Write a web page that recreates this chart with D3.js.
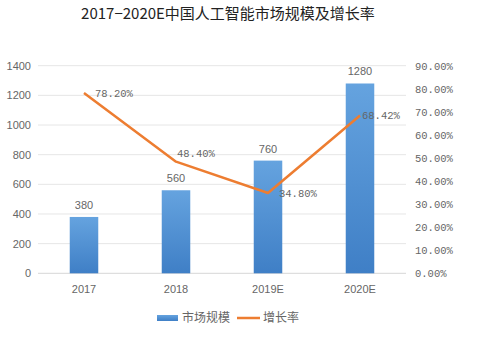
<!DOCTYPE html>
<html><head><meta charset="utf-8">
<script src="https://cdn.jsdelivr.net/npm/d3@7"></script>
<style>body{margin:0;background:#fff}svg{display:block}</style>
</head><body>
<svg id="c" width="478" height="343"></svg>
<script>
const categories = ["2017", "2018", "2019E", "2020E"];
const marketSize = [380, 560, 760, 1280];
const growthRate = [78.20, 48.40, 34.80, 68.42];
const leftTicks = [0, 200, 400, 600, 800, 1000, 1200, 1400];
const rightTicks = [0, 10, 20, 30, 40, 50, 60, 70, 80, 90];
const rateLabelOffsets = [[11, 0], [1, -8], [11, 0], [2, 0]];
const title = "2017\u22122020E中国人工智能市场规模及增长率";
const legendNames = ["市场规模", "增长率"];

(function () {
const svg = d3.select("#c");
const pL = 38, pR = 406, pT = 65.7, pB = 273.3;
const txt = "#666";
const x = d3.scaleBand().domain(categories).range([pL, pR]).paddingInner(0.69).paddingOuter(0.345);
const xc = d3.scaleBand().domain(categories).range([pL, pR]);
const yL = d3.scaleLinear().domain([0, 1400]).range([pB, pT]);
const yR = d3.scaleLinear().domain([0, 90]).range([pB, pT]);

const defs = svg.append("defs");
const g = defs.append("linearGradient").attr("id", "bg").attr("x1", 0).attr("y1", 0).attr("x2", 0).attr("y2", 1);
g.append("stop").attr("offset", "0%").attr("stop-color", "#65a3df");
g.append("stop").attr("offset", "100%").attr("stop-color", "#3f7fc6");

svg.append("text").attr("x", 228).attr("y", 19).attr("text-anchor", "middle")
  .attr("font-family", "'Noto Sans CJK SC', sans-serif").attr("font-size", 15).attr("fill", "#222")
  .text(title);

svg.append("g").selectAll("line").data(leftTicks).join("line")
  .attr("x1", pL).attr("x2", pR).attr("y1", d => yL(d)).attr("y2", d => yL(d))
  .attr("stroke", d => d === 0 ? "#d6d6d6" : "#e6e6e6").attr("stroke-width", 1);

const axL = svg.append("g").attr("transform", `translate(${pL},0)`)
  .call(d3.axisLeft(yL).tickValues(leftTicks).tickSize(0).tickPadding(7).tickFormat(d3.format("d")));
axL.select(".domain").remove();
axL.selectAll("text").attr("font-family", "'Liberation Sans', Arial, sans-serif").attr("font-size", 11).attr("fill", txt);

const axR = svg.append("g").attr("transform", `translate(${pR},0)`)
  .call(d3.axisRight(yR).tickValues(rightTicks).tickSize(0).tickPadding(9).tickFormat(d => d.toFixed(2) + "%"));
axR.select(".domain").remove();
axR.selectAll("text").attr("font-family", "'Liberation Mono', monospace").attr("font-size", 10.5).attr("fill", txt);

const axX = svg.append("g").attr("transform", `translate(0,${pB})`)
  .call(d3.axisBottom(xc).tickSize(0).tickPadding(12));
axX.select(".domain").remove();
axX.selectAll("text").attr("font-family", "'Liberation Sans', Arial, sans-serif").attr("font-size", 11).attr("fill", txt);

svg.append("g").selectAll("rect").data(marketSize).join("rect")
  .attr("x", (d, i) => x(categories[i])).attr("width", x.bandwidth())
  .attr("y", d => yL(d)).attr("height", d => yL(0) - yL(d)).attr("fill", "url(#bg)");

svg.append("g").selectAll("text").data(marketSize).join("text")
  .attr("x", (d, i) => x(categories[i]) + x.bandwidth() / 2).attr("y", d => yL(d) - 8)
  .attr("text-anchor", "middle").attr("font-family", "'Liberation Sans', Arial, sans-serif")
  .attr("font-size", 11).attr("fill", txt).text(d => d);

const cx = i => xc(categories[i]) + xc.bandwidth() / 2;
const line = d3.line().x((d, i) => cx(i)).y(d => yR(d));
svg.append("path").datum(growthRate).attr("d", line).attr("fill", "none")
  .attr("stroke", "#ed7d31").attr("stroke-width", 2.5).attr("stroke-linejoin", "round");

svg.append("g").selectAll("text").data(growthRate).join("text")
  .attr("x", (d, i) => cx(i) + rateLabelOffsets[i][0]).attr("y", (d, i) => yR(d) + rateLabelOffsets[i][1])
  .attr("dy", "0.35em").attr("font-family", "'Liberation Mono', monospace").attr("font-size", 10.5)
  .attr("fill", txt).text(d => d.toFixed(2) + "%");

const lg = svg.append("g");
lg.append("rect").attr("x", 157).attr("y", 315).attr("width", 21).attr("height", 6).attr("fill", "url(#bg)");
lg.append("text").attr("x", 182).attr("y", 318).attr("dy", "0.35em")
  .attr("font-family", "'Noto Sans CJK SC', sans-serif").attr("font-size", 12).attr("fill", txt).text(legendNames[0]);
lg.append("line").attr("x1", 237).attr("x2", 260).attr("y1", 318).attr("y2", 318).attr("stroke", "#ed7d31").attr("stroke-width", 2.5);
lg.append("text").attr("x", 263).attr("y", 318).attr("dy", "0.35em")
  .attr("font-family", "'Noto Sans CJK SC', sans-serif").attr("font-size", 12).attr("fill", txt).text(legendNames[1]);
})();
</script>
</body></html>
